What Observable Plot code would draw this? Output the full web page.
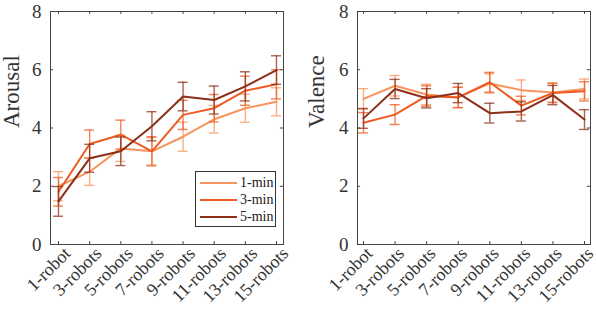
<!DOCTYPE html>
<html>
<head>
<meta charset="utf-8">
<script src="https://cdn.jsdelivr.net/npm/d3@7"></script>
<script src="https://cdn.jsdelivr.net/npm/@observablehq/plot@0.6"></script>
<style>
  html, body { margin: 0; padding: 0; background: #fff; }
  #wrap { position: relative; width: 596px; height: 312px; display: flex; font-family: "Liberation Serif", "DejaVu Serif", serif; }
  #legend { position: absolute; left: 195px; top: 171px; width: 79px; height: 54px; border: 1px solid #333; background: #fff; }
  .row { position: absolute; left: 0; height: 17px; width: 79px; }
  .sw { position: absolute; left: 4px; top: 8px; width: 37px; height: 2px; }
  .lab { position: absolute; left: 44px; top: 0px; font-size: 14px; line-height: 17px; color: #222; }
</style>
</head>
<body>
<div id="wrap"><div id="legend"></div></div>
<script>
const categories = ["1-robot", "3-robots", "5-robots", "7-robots", "9-robots", "11-robots", "13-robots", "15-robots"];
const groups = ["1-min", "3-min", "5-min"];
const colors = ["#F7945C", "#EE5A22", "#8C2F17"];
const yTicks = [0, 2, 4, 6, 8];

// Arousal (mean, half error bar)
const arousal1 = [2.0, 2.5, 3.3, 3.2, 3.7, 4.3, 4.68, 4.9];
const arousal1Err = [0.5, 0.47, 0.45, 0.47, 0.5, 0.47, 0.48, 0.48];
const arousal3 = [1.81, 3.45, 3.77, 3.2, 4.45, 4.68, 5.28, 5.5];
const arousal3Err = [0.49, 0.48, 0.5, 0.5, 0.5, 0.47, 0.5, 0.5];
const arousal5 = [1.48, 2.96, 3.2, 4.06, 5.08, 4.96, 5.43, 5.99];
const arousal5Err = [0.51, 0.48, 0.49, 0.5, 0.49, 0.48, 0.5, 0.49];

// Valence (mean, half error bar)
const valence1 = [5.0, 5.45, 5.15, 5.05, 5.53, 5.3, 5.22, 5.34];
const valence1Err = [0.35, 0.35, 0.35, 0.35, 0.33, 0.35, 0.33, 0.34];
const valence3 = [4.18, 4.46, 5.1, 5.05, 5.57, 4.77, 5.2, 5.26];
const valence3Err = [0.35, 0.34, 0.35, 0.35, 0.34, 0.32, 0.33, 0.33];
const valence5 = [4.33, 5.34, 5.02, 5.2, 4.51, 4.57, 5.13, 4.29];
const valence5Err = [0.34, 0.33, 0.33, 0.33, 0.34, 0.33, 0.33, 0.34];

function records(means, errs) {
  const out = [];
  groups.forEach((g, k) => {
    means[k].forEach((v, i) => out.push({i, group: g, v, lo: v - errs[k][i], hi: v + errs[k][i]}));
  });
  return out;
}

const FONT = '"Liberation Serif", "DejaVu Serif", serif';

function panel(data, label, cfg) {
  const idx = categories.map((_, i) => i);
  const [d0, d1] = cfg.xDomain;
  const cap = cfg.cap;
  const tk = cfg.tick;
  const marks = [
    Plot.frame({stroke: "#444", strokeWidth: 1}),
    Plot.ruleX(idx, {x: d => d, y1: 0, y2: 0.1, stroke: "#444"}),
    Plot.ruleX(idx, {x: d => d, y1: 8, y2: 7.9, stroke: "#444"}),
    Plot.ruleY(yTicks, {y: d => d, x1: d0, x2: d0 + tk, stroke: "#444"}),
    Plot.ruleY(yTicks, {y: d => d, x1: d1 - tk, x2: d1, stroke: "#444"}),
    Plot.axisX({ticks: idx, tickFormat: i => categories[i], tickRotate: -45, tickSize: 0, tickPadding: 3, dx: cfg.labDx, dy: 3, fontSize: 18, fontFamily: FONT, label: null, fill: "#333"}),
    Plot.axisY({ticks: yTicks, tickSize: 0, tickPadding: 9, fontSize: 19, fontFamily: FONT, label: null, fill: "#333"}),
    Plot.text([label], {frameAnchor: "left", dx: cfg.labelDx, rotate: -90, fontSize: 23, fontFamily: FONT, fill: "#333"})
  ];
  groups.forEach(g => {
    const d = data.filter(r => r.group === g);
    marks.push(
      Plot.ruleX(d, {x: "i", y1: "lo", y2: "hi", stroke: "group", strokeOpacity: 0.75, strokeWidth: 1.4}),
      Plot.ruleY(d, {y: "lo", x1: r => r.i - cap, x2: r => r.i + cap, stroke: "group", strokeOpacity: 0.75, strokeWidth: 1.4}),
      Plot.ruleY(d, {y: "hi", x1: r => r.i - cap, x2: r => r.i + cap, stroke: "group", strokeOpacity: 0.75, strokeWidth: 1.4}),
      Plot.line(d, {x: "i", y: "v", stroke: "group", strokeWidth: 2})
    );
  });
  return Plot.plot({
    width: 298,
    height: 312,
    marginLeft: cfg.ml,
    marginRight: cfg.mr,
    marginTop: 11,
    marginBottom: 68,
    style: {fontFamily: FONT, fontSize: "18px", color: "#333", background: "transparent", overflow: "visible"},
    x: {domain: cfg.xDomain, axis: null},
    y: {domain: [0, 8], axis: null},
    color: {domain: groups, range: colors},
    marks
  });
}

const arousalData = records([arousal1, arousal3, arousal5], [arousal1Err, arousal3Err, arousal5Err]);
const valenceData = records([valence1, valence3, valence5], [valence1Err, valence3Err, valence5Err]);

const wrap = document.getElementById("wrap");
const legend = document.getElementById("legend");
wrap.insertBefore(panel(arousalData, "Arousal", {ml: 50, mr: 15, xDomain: [-0.257, 7.225], cap: 0.16, tick: 0.1, labelDx: -39, labDx: 9}), legend);
wrap.insertBefore(panel(valenceData, "Valence", {ml: 59, mr: 6, xDomain: [-0.19, 7.19], cap: 0.16, tick: 0.1, labelDx: -41, labDx: 6}), legend);

groups.forEach((g, k) => {
  const row = document.createElement("div");
  row.className = "row";
  row.style.top = (2 + k * 17) + "px";
  row.innerHTML = `<div class="sw" style="background:${colors[k]}"></div><div class="lab">${g}</div>`;
  legend.appendChild(row);
});
</script>
</body>
</html>
